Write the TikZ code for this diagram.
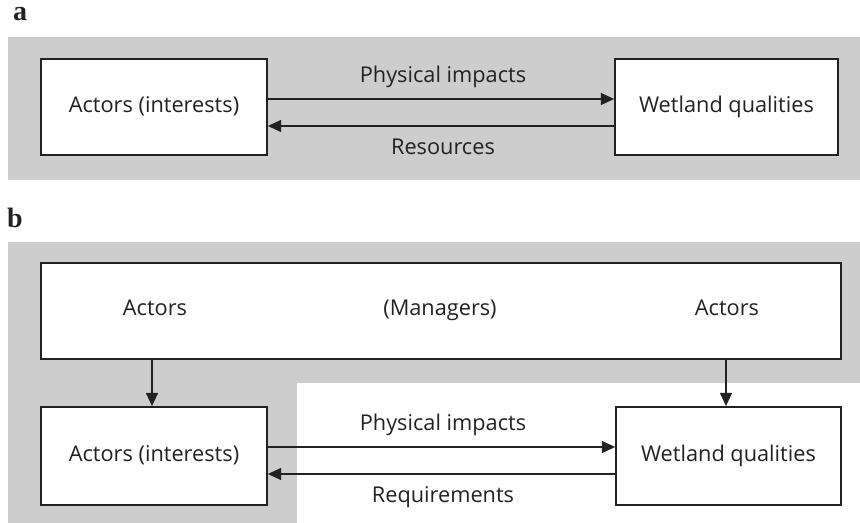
\documentclass[tikz,border=0pt]{standalone}
\usepackage{fontspec}
\setmainfont{Open Sans}
\newfontfamily\labfont{Liberation Serif}
\usetikzlibrary{arrows.meta}
\definecolor{panelgray}{HTML}{CDCDCD}
\definecolor{ink}{HTML}{222222}
\begin{document}
\begin{tikzpicture}[x=0.75pt,y=-0.75pt,
  box/.style={draw=ink,line width=1.3pt,fill=white,inner sep=0pt},
  txt/.style={text=ink,font=\fontsize{16.3}{19}\selectfont,inner sep=0pt,text height=12pt,text depth=3.5pt},
  panellab/.style={text=ink,font=\labfont\bfseries\fontsize{21}{24}\selectfont,inner sep=0pt},
  conn/.style={draw=ink,line width=1.1pt,-{Triangle[length=10pt,width=9pt]}}]
\useasboundingbox (0,0) rectangle (860,523);
% panel a
\node[panellab] (la) at (20,14) {a};
\fill[panelgray] (8,37) rectangle (860,180);
\node[box,minimum width=226*0.75pt,minimum height=96*0.75pt] (aA) at (154,107) {};
\node[txt] at (aA) {Actors (interests)};
\node[box,minimum width=223*0.75pt,minimum height=96*0.75pt] (aW) at (726.5,107) {};
\node[txt] at (aW) {Wetland qualities};
\coordinate (a1s) at (aA.east |- 0,99);
\coordinate (a1e) at (aW.west |- 0,99);
\coordinate (a2s) at (aW.west |- 0,126);
\coordinate (a2e) at (aA.east |- 0,126);
\draw[conn] (a1s) -- (a1e);
\draw[conn] (a2s) -- (a2e);
\node[txt] (aphys) at (443,77) {Physical impacts};
\node[txt] (ares) at (443,149) {Resources};
% panel b
\node[panellab] (lb) at (15,218) {b};
\fill[panelgray] (8,242) -- (860,242) -- (860,383) -- (297,383) -- (297,523) -- (8,523) -- cycle;
\node[box,minimum width=800*0.75pt,minimum height=96*0.75pt] (bM) at (441,311) {};
\node[txt] (bt1) at (155,310) {Actors};
\node[txt] (bt2) at (440,310) {(Managers)};
\node[txt] (bt3) at (727,310) {Actors};
\node[box,minimum width=226*0.75pt,minimum height=98*0.75pt] (bA) at (154,456) {};
\node[txt] at (bA) {Actors (interests)};
\node[box,minimum width=225*0.75pt,minimum height=98*0.75pt] (bW) at (728.5,456) {};
\node[txt] at (bW) {Wetland qualities};
\coordinate (bd1) at (152,0 |- bM.south);
\coordinate (bd1e) at (152,0 |- bA.north);
\coordinate (bd2) at (726,0 |- bM.south);
\coordinate (bd2e) at (726,0 |- bW.north);
\draw[conn] (bd1) -- (bd1e);
\draw[conn] (bd2) -- (bd2e);
\coordinate (b1s) at (bA.east |- 0,447);
\coordinate (b1e) at (bW.west |- 0,447);
\coordinate (b2s) at (bW.west |- 0,474);
\coordinate (b2e) at (bA.east |- 0,474);
\draw[conn] (b1s) -- (b1e);
\draw[conn] (b2s) -- (b2e);
\node[txt] (bphys) at (443,425) {Physical impacts};
\node[txt] (breq) at (443,497) {Requirements};
\end{tikzpicture}
\end{document}
